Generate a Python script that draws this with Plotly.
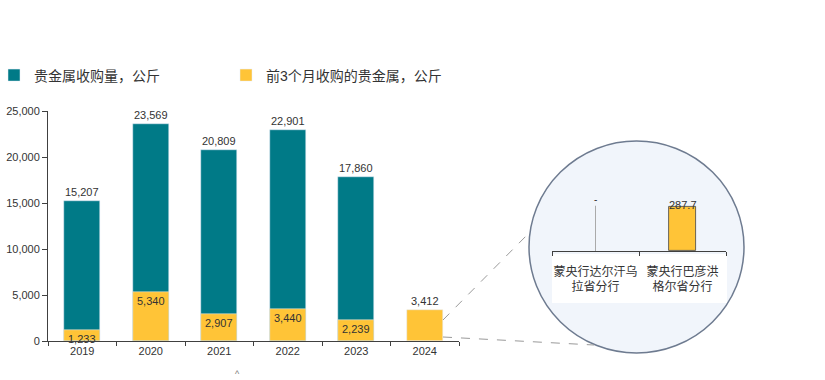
import plotly.graph_objects as go

# ---- data ----
years = ["2019", "2020", "2021", "2022", "2023", "2024"]
total_kg = [15207, 23569, 20809, 22901, 17860, None]
q1_kg = [1233, 5340, 2907, 3440, 2239, 3412]
branches = ["蒙央行达尔汗乌<br>拉省分行", "蒙央行巴彦洪<br>格尔省分行"]
branch_vals = [None, 287.7]
branch_text = ["-", "287.7"]
legend_names = ["贵金属收购量，公斤", "前3个月收购的贵金属，公斤"]

TEAL = "#007A87"
YELLOW = "#FFC437"
TXT = "#333333"
FONT = "Liberation Sans, Arial, Noto Sans CJK SC, sans-serif"

W, H = 825, 380
ML, MT, MB, MR = 48, 111, 39, 0
PW = W - ML - MR
PH = H - MT - MB


def px(x):
    return (x - ML) / PW


def py(y):
    return (H - MB - y) / PH


fig = go.Figure()

fig.add_trace(go.Bar(
    x=years, y=total_kg, name=legend_names[0], marker_color=TEAL,
    width=0.53, text=total_kg, texttemplate="%{y:,.0f}", textposition="outside",
    textfont=dict(size=11, color=TXT), cliponaxis=False,
    xaxis="x", yaxis="y",
))
fig.add_trace(go.Bar(
    x=years, y=q1_kg, name=legend_names[1], marker_color=YELLOW,
    width=0.53, text=q1_kg, texttemplate="%{y:,.0f}",
    textposition=["inside"] * 5 + ["outside"], insidetextanchor="end",
    constraintext="none", textangle=0,
    textfont=dict(size=11, color=TXT), cliponaxis=False,
    xaxis="x", yaxis="y",
))

# inset bars
fig.add_trace(go.Bar(
    x=branches, y=branch_vals, marker_color=YELLOW, width=0.3,
    marker_line=dict(color="#444444", width=0.8),
    showlegend=False, xaxis="x2", yaxis="y2", hoverinfo="skip",
))

leader = 335  # leader line length (inset units) for "-" label
fig.add_annotation(
    x=branches[0], y=0, ax=branches[0], ay=leader, xref="x2", yref="y2",
    axref="x2", ayref="y2", text=branch_text[0], showarrow=True,
    arrowhead=0, arrowwidth=1, arrowcolor="#AAAAAA", borderpad=0,
    font=dict(size=10, color=TXT, family=FONT),
)
fig.add_annotation(
    x=branches[1], y=branch_vals[1], xref="x2", yref="y2",
    text=branch_text[1], showarrow=False, yanchor="middle", yshift=2,
    font=dict(size=11, color=TXT, family=FONT),
)

# circle + white label box (below traces)
fig.add_shape(type="circle", xref="paper", yref="paper",
              x0=px(529), x1=px(744), y0=py(353), y1=py(141),
              fillcolor="#F1F5FB", line=dict(color="#6E7B90", width=1.5),
              layer="below")
fig.add_shape(type="rect", xref="paper", yref="paper",
              x0=px(552), x1=px(727), y0=py(303), y1=py(254),
              fillcolor="white", line=dict(width=0), layer="below")
# dashed connectors
fig.add_shape(type="line", xref="paper", yref="paper",
              x0=px(443), y0=py(320), x1=px(530), y1=py(232),
              line=dict(color="#9A9A9A", width=1, dash="dash"))
fig.add_shape(type="line", xref="paper", yref="paper",
              x0=px(443), y0=py(337), x1=px(594), y1=py(345),
              line=dict(color="#9A9A9A", width=1, dash="dash"))

fig.add_annotation(x=px(233), y=py(381), xref="paper", yref="paper",
                   text="^", showarrow=False,
                   font=dict(size=9, color="#777777", family=FONT))

fig.update_layout(
    width=W, height=H, margin=dict(l=ML, r=MR, t=MT, b=MB, autoexpand=False),
    paper_bgcolor="white", plot_bgcolor="rgba(0,0,0,0)",
    barmode="overlay", bargap=0,
    font=dict(family=FONT, size=11, color=TXT),
    legend=dict(orientation="h", x=px(-6), xanchor="left", y=py(75.5),
                yanchor="middle", font=dict(size=14, color=TXT),
                entrywidth=187, bgcolor="rgba(0,0,0,0)"),
    xaxis=dict(domain=[0, px(459)], showline=True, linecolor="#404040",
               linewidth=1, ticks="outside", tickson="boundaries",
               ticklen=4, tickcolor="#404040", showgrid=False,
               automargin=False, tickangle=0,
               tickfont=dict(size=11, color=TXT)),
    yaxis=dict(range=[0, 25000], showline=True, linecolor="#404040",
               linewidth=1, ticks="outside", ticklen=5, tickcolor="#404040",
               dtick=5000, tickformat=",", showgrid=False, zeroline=False,
               automargin=False, tickfont=dict(size=11, color=TXT)),
    xaxis2=dict(domain=[px(552), px(726)], anchor="y2", showline=True,
                linecolor="#404040", linewidth=1.2, ticks="outside",
                tickson="boundaries", ticklen=4, tickcolor="#404040",
                showgrid=False, ticklabelstandoff=9, tickangle=0,
                automargin=False, tickfont=dict(size=12, color=TXT)),
    yaxis2=dict(domain=[py(251), py(189.8)], anchor="x2", range=[0, 400],
                visible=False, automargin=False),
)

fig.write_html("out.html")
